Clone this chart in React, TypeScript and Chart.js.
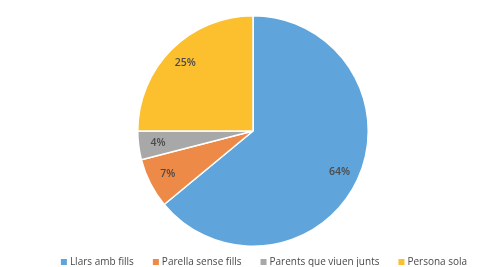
import React, { useEffect, useRef } from "react";
import { Chart, registerables } from "chart.js";

Chart.register(...registerables);

const categories = ["Llars amb fills", "Parella sense fills", "Parents que viuen junts", "Persona sola"];
const values = [64, 7, 4, 25];
const colors = ["#5FA5DB", "#EE8A48", "#A8A8A8", "#FCBF2E"];

const FONT = "'Open Sans', 'Liberation Sans', sans-serif";

const labelPlugin = {
  id: "sliceLabels",
  afterDatasetsDraw(chart: any) {
    const ctx = chart.ctx;
    const meta = chart.getDatasetMeta(0);
    const total = values.reduce((a, b) => a + b, 0);
    ctx.save();
    ctx.font = `600 10.5px ${FONT}`;
    ctx.fillStyle = "#4a4a4a";
    ctx.textAlign = "center";
    ctx.textBaseline = "middle";
    meta.data.forEach((arc: any, i: number) => {
      const { x, y, startAngle, endAngle, outerRadius } = arc.getProps(
        ["x", "y", "startAngle", "endAngle", "outerRadius"],
        true
      );
      const mid = (startAngle + endAngle) / 2;
      const r = outerRadius * 0.83;
      const pct = Math.round((values[i] / total) * 100);
      ctx.fillText(`${pct}%`, x + Math.cos(mid) * r, y + Math.sin(mid) * r);
    });
    ctx.restore();
  },
};

const legendPlugin = {
  id: "customLegend",
  afterDraw(chart: any) {
    const ctx = chart.ctx;
    ctx.save();
    ctx.font = `10px ${FONT}`;
    ctx.textBaseline = "middle";
    const box = 6;
    const gapBoxText = 3;
    const gapItems = 19;
    const widths = categories.map((c) => box + gapBoxText + ctx.measureText(c).width);
    const total = widths.reduce((a, b) => a + b, 0) + gapItems * (categories.length - 1);
    let x = 264 - total / 2;
    const y = 262;
    categories.forEach((c, i) => {
      ctx.fillStyle = colors[i];
      ctx.fillRect(x, y - box / 2, box, box);
      ctx.fillStyle = "#4a4a4a";
      ctx.fillText(c, x + box + gapBoxText, y);
      x += widths[i] + gapItems;
    });
    ctx.restore();
  },
};

export default function App() {
  const ref = useRef<HTMLCanvasElement>(null);
  useEffect(() => {
    if (!ref.current) return;
    const chart = new Chart(ref.current, {
      type: "pie",
      data: {
        labels: categories,
        datasets: [
          {
            data: values,
            backgroundColor: colors,
            borderColor: "#ffffff",
            borderWidth: 1.5,
          },
        ],
      },
      options: {
        animation: false,
        responsive: false,
        maintainAspectRatio: false,
        layout: { padding: { top: 15, bottom: 20, left: 20, right: 0 } },
        plugins: {
          legend: { display: false },
          tooltip: { enabled: false },
        },
      },
      plugins: [labelPlugin, legendPlugin],
    });
    return () => chart.destroy();
  }, []);
  return (
    <div style={{ position: "fixed", left: 0, top: 0, width: 486, height: 267, background: "#fff" }}>
      <canvas ref={ref} width={486} height={267} style={{ width: 486, height: 267 }} />
    </div>
  );
}
